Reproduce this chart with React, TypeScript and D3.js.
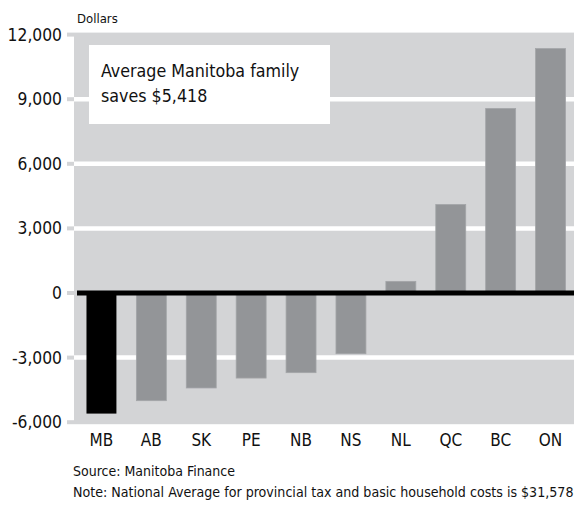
import React from "react";
import * as d3 from "d3";

const categories = ["MB", "AB", "SK", "PE", "NB", "NS", "NL", "QC", "BC", "ON"];
const values = [-5600, -5000, -4410, -3950, -3700, -2820, 540, 4110, 8570, 11350];
const yTicks = [-6000, -3000, 0, 3000, 6000, 9000, 12000];
const highlight = "MB";
const boxLines = ["Average Manitoba family", "saves $5,418"];
const yTitle = "Dollars";
const sourceText = "Source: Manitoba Finance";
const noteText = "Note: National Average for provincial tax and basic household costs is $31,578";

const W = 574;
const H = 508;
const FONT = "'DejaVu Sans Condensed', 'Liberation Sans Narrow', sans-serif";

export default function App() {
  const y = d3.scaleLinear().domain([-6000, 12000]).range([422.2, 34.6]);
  const x = d3
    .scaleBand<string>()
    .domain(categories)
    .range([76.5, 575.5])
    .paddingInner(0.4)
    .paddingOuter(0.2);
  const fmt = d3.format(",");
  const plotLeft = 74;
  const bgTop = y(12000) - 2;
  const bgBottom = y(-6000) + 2;

  return (
    <svg
      width={W}
      height={H}
      style={{ position: "absolute", left: 0, top: 0, background: "#fff" }}
      fontFamily={FONT}
    >
      <rect x={plotLeft} y={bgTop} width={W - plotLeft} height={bgBottom - bgTop} fill="#d3d4d6" />
      {yTicks.map((t) => (
        <g key={t}>
          <line x1={67} x2={plotLeft} y1={y(t)} y2={y(t)} stroke="#d3d4d6" strokeWidth={4} />
          {t !== 0 && t !== 12000 && t !== -6000 && (
            <line x1={plotLeft} x2={W} y1={y(t)} y2={y(t)} stroke="#ffffff" strokeWidth={4.5} />
          )}
          <text x={62} y={y(t)} dy="0.35em" textAnchor="end" fontSize={17.3} fill="#111">
            {fmt(t).replace("−", "-")}
          </text>
        </g>
      ))}
      <text x={77} y={23} fontSize={13} fill="#111">
        {yTitle}
      </text>
      {categories.map((c, i) => {
        const v = values[i];
        return (
          <rect
            key={c}
            x={x(c)}
            width={x.bandwidth()}
            y={y(Math.max(0, v))}
            height={Math.abs(y(v) - y(0))}
            fill={c === highlight ? "#000" : "#939598"}
            stroke={c === highlight ? "none" : "#a3a5a8"}
            strokeWidth={0.8}
          />
        );
      })}
      <line x1={77} x2={W} y1={y(0)} y2={y(0)} stroke="#000" strokeWidth={5} />
      <rect x={89} y={45} width={241} height={79} fill="#fff" />
      {boxLines.map((l, i) => (
        <text key={i} x={101} y={77 + i * 25} fontSize={17.7} fill="#111">
          {l}
        </text>
      ))}
      {categories.map((c) => (
        <text
          key={c}
          x={(x(c) as number) + x.bandwidth() / 2}
          y={446}
          textAnchor="middle"
          fontSize={17}
          fill="#111"
        >
          {c}
        </text>
      ))}
      <text x={73} y={476} fontSize={14} fill="#111">
        {sourceText}
      </text>
      <text x={73} y={497} fontSize={14.1} fill="#111">
        {noteText}
      </text>
    </svg>
  );
}
